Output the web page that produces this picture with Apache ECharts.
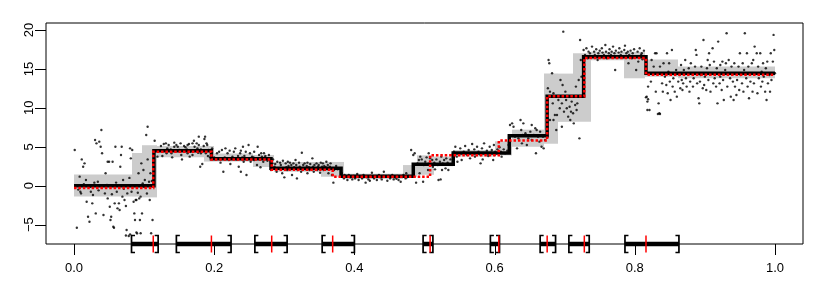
<!DOCTYPE html>
<html><head><meta charset="utf-8">
<script src="https://cdn.jsdelivr.net/npm/echarts@6/dist/echarts.min.js"></script>
<style>html,body{margin:0;padding:0;background:#fff}#c{width:814px;height:291px}</style>
</head><body><div id="c"></div>
<script>
// axis
const xTicks = [0, 0.2, 0.4, 0.6, 0.8, 1.0];
const yTicks = [-5, 0, 5, 10, 15, 20];
const X_MIN = -0.04, X_MAX = 1.04, Y_MIN = -7.49, Y_MAX = 20.9;

// fitted step function (black)
const fitBreaks = [0, 0.114, 0.196, 0.281, 0.381, 0.484, 0.541, 0.621, 0.675, 0.727, 0.816, 1.0];
const fitLevels = [0, 4.5, 3.45, 2.25, 1.2, 2.75, 4.2, 6.4, 11.5, 16.55, 14.45];

// true step function (red dotted)
const trueBreaks = [0, 0.113, 0.196, 0.282, 0.369, 0.508, 0.606, 0.675, 0.728, 0.816, 1.0];
const trueLevels = [-0.3, 4.35, 3.35, 2.05, 1.15, 3.9, 5.8, 11.5, 16.4, 14.25];

// confidence band (grey)
const bandStart = [0, 0.082, 0.097, 0.118, 0.185, 0.200, 0.255, 0.285, 0.352, 0.385, 0.470, 0.490, 0.513, 0.541, 0.600, 0.625, 0.670, 0.690, 0.712, 0.738, 0.785, 0.815, 0.862];
const bandEnd   = [0.082, 0.097, 0.118, 0.185, 0.200, 0.255, 0.285, 0.352, 0.385, 0.470, 0.490, 0.513, 0.541, 0.600, 0.625, 0.670, 0.690, 0.712, 0.738, 0.785, 0.815, 0.862, 1.0];
const bandLow   = [-1.4, -1.4, -1.5, 3.65, 3.1, 3.1, 2.4, 1.8, 1.15, 0.85, 1.15, 1.4, 2.5, 3.75, 3.9, 5.0, 5.4, 8.2, 8.2, 16.1, 13.8, 14.0, 13.8];
const bandHigh  = [1.45, 4.2, 5.2, 5.1, 5.1, 4.15, 3.95, 3.05, 3.05, 1.55, 2.65, 3.9, 3.75, 4.6, 5.7, 7.2, 14.4, 14.4, 17.0, 17.2, 17.2, 16.2, 15.3];

// change-point confidence intervals
const ciLower    = [0.082, 0.146, 0.258, 0.354, 0.498, 0.594, 0.665, 0.706, 0.786];
const ciUpper    = [0.120, 0.224, 0.304, 0.400, 0.512, 0.607, 0.687, 0.735, 0.863];
const ciEstimate = [0.113, 0.196, 0.282, 0.369, 0.508, 0.606, 0.675, 0.728, 0.816];

// observations
const seg1 = [[0.001,4.58],[0.004,-5.40],[0.008,1.16],[0.009,-0.77],[0.010,-0.99],[0.011,3.38],[0.013,2.44],[0.015,2.87],[0.017,0.73],[0.018,-2.06],[0.020,-3.98],[0.022,-4.63],[0.023,-0.13],[0.024,-0.77],[0.026,-2.27],[0.029,0.39],[0.030,5.87],[0.031,-3.56],[0.032,5.44],[0.034,0.51],[0.036,5.66],[0.038,5.01],[0.039,7.16],[0.040,4.16],[0.042,-3.77],[0.044,-0.99],[0.045,1.59],[0.048,-1.63],[0.048,3.08],[0.050,3.08],[0.051,-2.70],[0.052,-4.41],[0.053,-3.98],[0.055,3.08],[0.056,-5.27],[0.058,-2.27],[0.059,5.01],[0.061,-0.77],[0.062,-2.91],[0.064,-2.27],[0.065,-3.13],[0.066,2.44],[0.067,3.94],[0.068,5.01],[0.069,-1.41],[0.070,0.73],[0.072,-1.84],[0.074,-2.61],[0.075,-5.70],[0.076,-0.99],[0.078,-6.47],[0.080,4.80],[0.081,3.51],[0.082,-0.77],[0.083,4.58],[0.085,-2.06],[0.086,-3.56],[0.087,-4.41],[0.088,-1.84],[0.089,-1.84],[0.090,-6.13],[0.092,1.59],[0.093,-1.63],[0.094,-4.41],[0.095,-1.41],[0.096,2.87],[0.097,-3.56],[0.099,2.01],[0.100,-0.13],[0.101,0.73],[0.103,6.51],[0.105,7.58],[0.105,3.38],[0.107,0.51],[0.108,-1.84],[0.109,1.59],[0.112,-4.41],[0.113,2.96],[0.057,-5.4],[0.074,-6.4],[0.080,-6.25],[0.089,-6.0],[0.095,-6.1],[0.110,-6.1],[0.006,-0.5],[0.014,0.2],[0.027,-1.2],[0.035,-0.6],[0.047,0.1],[0.054,-1.1],[0.060,0.4],[0.071,-0.4],[0.079,1.0],[0.091,-0.9],[0.098,0.3],[0.104,-1.0],[0.111,0.6]];
const seg2 = [[0.115,5.78],[0.124,5.10],[0.128,5.36],[0.131,5.44],[0.133,4.80],[0.135,5.23],[0.138,4.67],[0.139,4.16],[0.143,5.01],[0.143,5.53],[0.146,5.23],[0.148,5.01],[0.150,4.58],[0.152,5.44],[0.154,3.38],[0.157,5.10],[0.159,4.93],[0.161,4.67],[0.162,5.23],[0.162,4.16],[0.164,5.36],[0.166,4.37],[0.169,5.44],[0.171,5.78],[0.172,5.01],[0.173,4.50],[0.175,5.44],[0.176,4.80],[0.177,4.24],[0.178,5.23],[0.180,2.44],[0.181,4.16],[0.181,4.67],[0.183,2.78],[0.185,5.10],[0.187,6.30],[0.188,4.16],[0.189,5.44],[0.190,5.23],[0.191,3.81],[0.192,4.58],[0.194,3.64],[0.119,3.73],[0.126,3.81],[0.132,4.16],[0.140,3.64],[0.153,3.94],[0.165,3.73],[0.169,3.94],[0.178,6.3],[0.186,6.0]];
const seg3 = [[0.197,4.80],[0.200,3.64],[0.202,3.38],[0.204,4.16],[0.207,4.37],[0.209,2.96],[0.211,4.58],[0.213,1.80],[0.215,3.64],[0.216,4.80],[0.219,4.16],[0.221,3.30],[0.222,4.50],[0.223,2.78],[0.226,3.73],[0.227,3.51],[0.228,4.37],[0.230,4.80],[0.232,3.38],[0.234,3.81],[0.235,2.44],[0.237,4.16],[0.238,1.80],[0.238,4.50],[0.240,3.64],[0.241,5.01],[0.242,3.08],[0.243,3.81],[0.245,4.37],[0.246,1.37],[0.247,3.38],[0.249,5.23],[0.251,4.16],[0.252,3.08],[0.254,3.73],[0.256,3.64],[0.257,3.30],[0.257,4.37],[0.260,3.51],[0.261,2.66],[0.262,5.01],[0.264,3.94],[0.265,3.38],[0.266,2.36],[0.267,4.16],[0.268,3.73],[0.270,3.08],[0.271,4.16],[0.272,3.64],[0.273,3.81],[0.275,3.51],[0.276,3.21],[0.278,3.94],[0.279,3.38]];
const seg4 = [[0.281,2.01],[0.283,2.87],[0.284,3.38],[0.286,2.44],[0.287,2.78],[0.289,1.80],[0.290,3.08],[0.292,2.23],[0.294,2.96],[0.295,2.66],[0.297,1.59],[0.298,3.21],[0.300,1.07],[0.302,2.87],[0.303,2.36],[0.304,2.01],[0.305,3.08],[0.306,2.53],[0.308,2.96],[0.309,2.10],[0.310,2.66],[0.311,1.37],[0.313,2.87],[0.314,2.36],[0.316,3.30],[0.317,2.66],[0.318,0.94],[0.319,2.01],[0.321,2.96],[0.322,2.44],[0.324,1.80],[0.325,4.24],[0.327,2.66],[0.328,2.23],[0.329,2.87],[0.330,2.10],[0.332,2.53],[0.333,1.59],[0.333,2.96],[0.335,2.36],[0.336,2.01],[0.337,2.78],[0.340,3.51],[0.341,2.44],[0.342,1.80],[0.343,2.66],[0.344,2.23],[0.346,2.87],[0.347,2.01],[0.348,2.44],[0.349,2.66],[0.351,1.67],[0.352,2.96],[0.352,2.23],[0.354,2.44],[0.355,2.87],[0.356,2.01],[0.357,2.53],[0.359,2.36],[0.360,3.08],[0.361,2.10],[0.362,2.66],[0.363,1.59],[0.365,2.44],[0.366,2.87],[0.368,1.37],[0.370,0.39],[0.371,2.01],[0.373,2.23],[0.374,2.53],[0.376,2.10]];
const seg5 = [[0.382,1.59],[0.385,0.94],[0.387,1.16],[0.390,0.73],[0.392,1.37],[0.394,1.07],[0.397,0.81],[0.399,1.24],[0.401,0.94],[0.404,1.50],[0.406,0.73],[0.409,1.16],[0.411,0.94],[0.413,1.37],[0.416,0.39],[0.418,1.07],[0.420,0.81],[0.423,1.24],[0.425,1.67],[0.428,0.94],[0.430,1.16],[0.432,0.73],[0.435,1.37],[0.437,1.07],[0.439,0.81],[0.442,1.80],[0.444,1.16],[0.447,0.64],[0.449,1.24],[0.451,0.94],[0.454,1.37],[0.456,0.81],[0.458,1.07],[0.461,1.24],[0.463,0.73],[0.466,0.51],[0.468,1.16],[0.470,1.37],[0.473,0.94],[0.475,1.07],[0.477,1.24],[0.386,1.37],[0.403,1.16],[0.422,0.64],[0.441,1.24],[0.460,0.90],[0.474,1.59]];
const seg6 = [[0.481,4.58],[0.484,3.94],[0.486,4.16],[0.488,0.39],[0.490,2.87],[0.492,3.30],[0.493,1.59],[0.494,3.73],[0.496,3.38],[0.498,0.51],[0.499,2.66],[0.501,3.08],[0.503,3.64],[0.505,2.01],[0.506,4.16],[0.507,2.87],[0.508,3.51],[0.511,3.30],[0.512,2.44],[0.514,2.96],[0.515,2.10],[0.517,3.38],[0.519,2.66],[0.520,0.73],[0.522,3.08],[0.523,0.81],[0.524,3.73],[0.525,2.01],[0.526,2.87],[0.528,3.30],[0.530,2.23],[0.531,3.51],[0.533,2.96],[0.534,2.01],[0.537,3.38],[0.539,3.94]];
const seg7 = [[0.542,4.37],[0.544,5.01],[0.546,3.73],[0.549,4.16],[0.551,4.80],[0.553,3.30],[0.556,4.37],[0.558,5.10],[0.561,3.94],[0.563,4.58],[0.565,3.51],[0.568,5.36],[0.569,4.16],[0.571,4.67],[0.572,3.73],[0.575,5.01],[0.577,4.37],[0.580,3.94],[0.582,4.80],[0.583,3.38],[0.585,5.44],[0.587,4.16],[0.589,4.50],[0.591,3.81],[0.593,5.01],[0.595,4.24],[0.596,4.58],[0.599,5.23],[0.600,3.94],[0.601,4.37],[0.604,4.67],[0.606,4.16],[0.607,4.93],[0.609,4.37],[0.610,3.73],[0.613,4.67],[0.615,4.16],[0.618,4.50],[0.547,3.08],[0.580,2.87],[0.598,3.30]];
const seg8 = [[0.620,5.23],[0.622,5.66],[0.625,8.01],[0.627,7.58],[0.629,6.30],[0.632,4.80],[0.634,6.08],[0.637,8.44],[0.638,7.16],[0.639,5.44],[0.640,6.51],[0.641,8.01],[0.644,6.73],[0.646,5.23],[0.648,6.08],[0.651,6.94],[0.653,5.87],[0.656,6.51],[0.658,7.37],[0.659,4.16],[0.660,7.16],[0.662,6.30],[0.664,5.66],[0.665,6.94],[0.667,5.01],[0.669,6.30],[0.670,4.80],[0.672,5.87],[0.622,7.8],[0.653,7.8]];
const seg9 = [[0.676,12.51],[0.677,16.15],[0.678,15.72],[0.679,12.08],[0.682,14.44],[0.683,10.58],[0.684,11.87],[0.686,9.08],[0.688,7.16],[0.689,9.08],[0.691,11.01],[0.693,9.94],[0.694,13.58],[0.696,10.58],[0.697,12.94],[0.698,19.79],[0.699,9.51],[0.701,12.08],[0.702,11.01],[0.703,9.94],[0.705,8.87],[0.707,10.15],[0.708,8.44],[0.709,9.51],[0.710,10.80],[0.712,9.30],[0.713,8.01],[0.714,11.44],[0.715,10.37],[0.716,12.73],[0.717,9.73],[0.718,10.58],[0.720,13.58],[0.721,6.08],[0.722,18.72],[0.723,16.15],[0.724,14.01],[0.684,8.44],[0.696,7.58],[0.679,8.44]];
const seg10 = [[0.727,17.44],[0.729,16.80],[0.731,17.65],[0.733,16.37],[0.734,17.22],[0.736,17.01],[0.739,17.87],[0.740,16.58],[0.742,17.22],[0.743,16.80],[0.745,17.52],[0.747,16.15],[0.748,17.01],[0.750,17.35],[0.752,16.58],[0.753,17.65],[0.754,17.10],[0.756,16.80],[0.758,18.08],[0.759,17.22],[0.760,16.37],[0.763,17.01],[0.764,17.52],[0.766,16.80],[0.767,17.22],[0.769,17.87],[0.771,17.01],[0.772,14.87],[0.773,17.35],[0.775,16.58],[0.777,17.10],[0.778,17.65],[0.780,16.80],[0.781,17.22],[0.783,16.49],[0.785,17.44],[0.786,17.99],[0.788,17.01],[0.790,17.22],[0.791,15.72],[0.792,16.80],[0.794,17.35],[0.796,16.37],[0.797,17.01],[0.799,17.52],[0.801,16.58],[0.802,14.87],[0.804,17.22],[0.805,15.94],[0.807,17.65],[0.809,16.80],[0.810,17.01],[0.811,16.24],[0.813,17.35],[0.815,16.58]];
const seg11 = [[0.817,11.44],[0.818,10.80],[0.819,12.73],[0.821,9.73],[0.823,13.37],[0.824,16.15],[0.827,15.30],[0.829,17.01],[0.830,12.08],[0.831,17.01],[0.834,10.58],[0.835,9.30],[0.836,15.30],[0.839,13.15],[0.840,12.08],[0.841,15.72],[0.843,14.01],[0.845,12.94],[0.846,17.01],[0.847,11.87],[0.848,14.65],[0.849,15.72],[0.850,13.37],[0.851,11.01],[0.853,17.44],[0.854,12.73],[0.855,13.80],[0.857,12.08],[0.859,14.87],[0.860,11.44],[0.862,13.37],[0.864,14.22],[0.865,12.51],[0.866,15.51],[0.867,13.58],[0.868,12.30],[0.869,13.15],[0.870,14.87],[0.872,16.15],[0.873,13.80],[0.874,12.73],[0.877,15.08],[0.878,12.08],[0.879,13.37],[0.880,15.72],[0.881,14.44],[0.883,12.73],[0.884,13.80],[0.886,15.30],[0.887,17.44],[0.888,16.80],[0.889,13.15],[0.891,11.23],[0.892,10.58],[0.893,13.37],[0.894,14.22],[0.895,15.30],[0.897,12.51],[0.898,18.72],[0.899,12.94],[0.900,14.01],[0.902,12.30],[0.903,15.08],[0.904,16.15],[0.905,13.58],[0.906,17.01],[0.907,15.51],[0.908,12.08],[0.910,14.44],[0.911,17.65],[0.912,13.15],[0.913,15.94],[0.914,13.80],[0.916,12.73],[0.917,15.08],[0.918,10.58],[0.919,18.51],[0.921,13.15],[0.922,15.51],[0.922,14.01],[0.924,12.30],[0.925,15.94],[0.926,13.58],[0.927,11.01],[0.929,14.87],[0.930,15.72],[0.931,19.58],[0.932,12.73],[0.934,16.15],[0.935,14.44],[0.936,13.80],[0.937,11.44],[0.938,15.30],[0.940,13.37],[0.941,11.01],[0.942,15.72],[0.943,12.73],[0.944,14.44],[0.945,11.65],[0.946,13.58],[0.948,15.30],[0.949,12.30],[0.950,17.01],[0.951,14.22],[0.953,13.15],[0.954,15.72],[0.955,12.08],[0.956,14.87],[0.957,19.58],[0.959,13.80],[0.960,17.01],[0.961,12.73],[0.962,15.30],[0.963,11.23],[0.964,14.44],[0.965,13.37],[0.967,15.72],[0.968,12.08],[0.969,16.15],[0.970,13.15],[0.971,17.87],[0.973,14.44],[0.974,17.01],[0.975,11.87],[0.976,15.30],[0.977,13.80],[0.979,17.01],[0.980,12.73],[0.981,14.65],[0.982,13.37],[0.983,15.72],[0.984,14.01],[0.986,12.08],[0.987,15.08],[0.988,11.01],[0.989,15.94],[0.990,13.15],[0.992,14.22],[0.993,12.08],[0.994,17.01],[0.995,13.58],[0.997,15.94],[0.998,19.37],[0.999,17.44],[1.000,14.44],[0.816,11.35],[0.819,11.10],[0.818,9.73],[0.833,9.21],[0.836,9.21]];

const observations = [].concat(seg1, seg2, seg3, seg4, seg5, seg6, seg7, seg8, seg9, seg10, seg11);

function stepData(breaks, levels) {
  const d = levels.map((v, i) => [breaks[i], v]);
  d.push([breaks[breaks.length - 1], levels[levels.length - 1]]);
  return d;
}

const chart = echarts.init(document.getElementById('c'), null, {renderer: 'canvas'});
const FONT = 'Liberation Sans, Arial, Helvetica, sans-serif';
const TICK_LEN = 11;
chart.setOption({
  animation: false,
  backgroundColor: '#ffffff',
  grid: {left: 46, right: 11, top: 23, bottom: 47, show: true, borderColor: '#000', borderWidth: 1, backgroundColor: 'transparent'},
  xAxis: {
    type: 'value', min: X_MIN, max: X_MAX, position: 'bottom',
    axisLine: {show: false, onZero: false},
    splitLine: {show: false},
    axisTick: {show: false},
    axisLabel: {customValues: xTicks, margin: 18, color: '#000', fontSize: 13, fontFamily: FONT, formatter: v => v.toFixed(1)}
  },
  yAxis: {
    type: 'value', min: Y_MIN, max: Y_MAX, position: 'left',
    axisLine: {show: false, onZero: false},
    splitLine: {show: false},
    axisTick: {show: false},
    axisLabel: {customValues: yTicks, rotate: 90, margin: 10, color: '#000', fontSize: 13, fontFamily: FONT, formatter: v => String(v).replace('-', '\u2212')}
  },
  series: [
    {
      type: 'custom', z: 1, silent: true,
      data: bandStart.map((s, i) => [s, bandEnd[i], bandLow[i], bandHigh[i]]),
      encode: {x: [0, 1], y: [2, 3]},
      renderItem: function (params, api) {
        const p0 = api.coord([api.value(0), api.value(3)]);
        const p1 = api.coord([api.value(1), api.value(2)]);
        const x0 = Math.round(p0[0]), x1 = Math.round(p1[0]);
        return {type: 'rect', shape: {x: x0, y: p0[1], width: x1 - x0, height: p1[1] - p0[1]}, style: {fill: '#cccccc'}};
      }
    },
    {
      type: 'scatter', z: 2, silent: true,
      data: observations, symbol: 'circle', symbolSize: 2.4,
      itemStyle: {color: '#000'}
    },
    {
      type: 'line', z: 3, silent: true, step: 'end', showSymbol: false,
      data: stepData(fitBreaks, fitLevels),
      lineStyle: {color: '#000', width: 3.5, cap: 'butt', join: 'miter'}
    },
    {
      type: 'line', z: 4, silent: true, step: 'end', showSymbol: false,
      data: stepData(trueBreaks, trueLevels),
      lineStyle: {color: '#ff0000', width: 2.5, type: [2.5, 1.9], cap: 'butt', join: 'miter'}
    },
    {
      // change-point intervals; first item also carries the R-style axis tick marks (filled 1px rects)
      type: 'custom', z: 5, silent: true, clip: false,
      data: ciLower.map((l, i) => [l, ciUpper[i], ciEstimate[i]]),
      encode: {x: [0, 1, 2]},
      renderItem: function (params, api) {
        const yb = api.coord([0, Y_MIN])[1];
        const xl = api.coord([api.value(0), Y_MIN])[0];
        const xh = api.coord([api.value(1), Y_MIN])[0];
        const xe = api.coord([api.value(2), Y_MIN])[0];
        const h = 8.5, w = 3.5;
        const children = [
          {type: 'line', shape: {x1: xl, y1: yb, x2: xh, y2: yb}, style: {stroke: '#000', lineWidth: 4.5}},
          {type: 'polyline', shape: {points: [[xl + w, yb - h], [xl, yb - h], [xl, yb + h], [xl + w, yb + h]]}, style: {stroke: '#000', lineWidth: 1.7, fill: null}},
          {type: 'polyline', shape: {points: [[xh - w, yb - h], [xh, yb - h], [xh, yb + h], [xh - w, yb + h]]}, style: {stroke: '#000', lineWidth: 1.7, fill: null}},
          {type: 'line', shape: {x1: xe, y1: yb - h, x2: xe, y2: yb + h}, style: {stroke: '#ff0000', lineWidth: 1.5}}
        ];
        if (params.dataIndex === 0) {
          const xLeft = api.coord([X_MIN, Y_MIN])[0];
          xTicks.forEach(function (v) {
            const px = Math.round(api.coord([v, Y_MIN])[0]);
            children.push({type: 'rect', shape: {x: px, y: Math.round(yb), width: 1, height: TICK_LEN}, style: {fill: '#000'}});
          });
          yTicks.forEach(function (v) {
            const py = Math.round(api.coord([X_MIN, v])[1]);
            children.push({type: 'rect', shape: {x: Math.round(xLeft) - TICK_LEN, y: py, width: TICK_LEN, height: 1}, style: {fill: '#000'}});
          });
        }
        return {type: 'group', children: children};
      }
    }
  ]
});
</script>
</body></html>
